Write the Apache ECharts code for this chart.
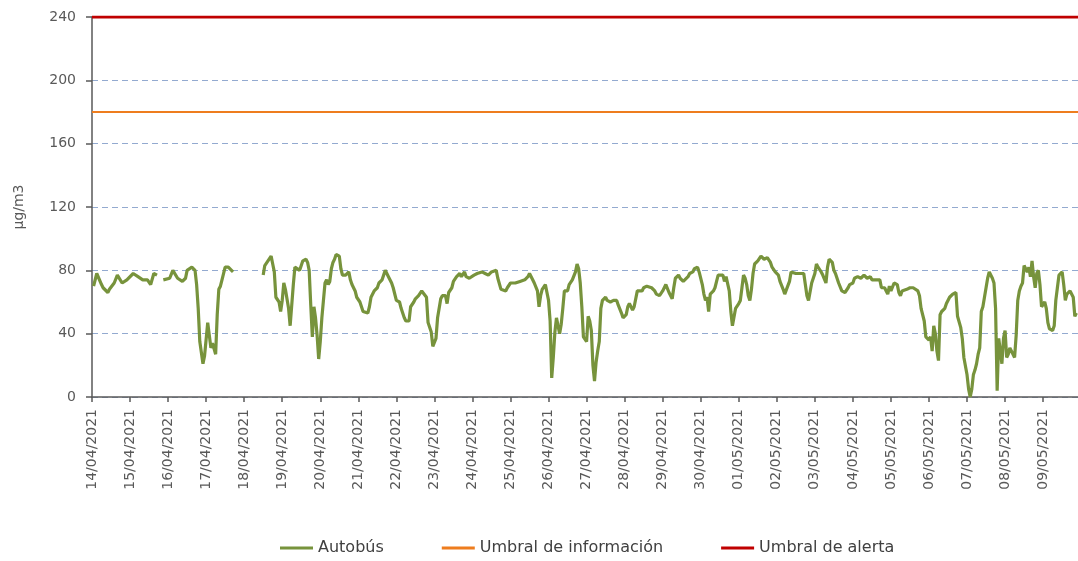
<!DOCTYPE html>
<html>
<head>
<meta charset="utf-8">
<script src="https://cdn.jsdelivr.net/npm/echarts@6/dist/echarts.min.js"></script>
<style>
html,body{margin:0;padding:0;background:#fff;}
#chart{width:1078px;height:561px;}
</style>
</head>
<body>
<div id="chart"></div>
<script>
// Day labels (one per 24 hours on the x axis, hour 0 = 14/04/2021 00:00)
const dayLabels = ['14/04/2021','15/04/2021','16/04/2021','17/04/2021','18/04/2021','19/04/2021','20/04/2021','21/04/2021','22/04/2021','23/04/2021','24/04/2021','25/04/2021','26/04/2021','27/04/2021','28/04/2021','29/04/2021','30/04/2021','01/05/2021','02/05/2021','03/05/2021','04/05/2021','05/05/2021','06/05/2021','07/05/2021','08/05/2021','09/05/2021'];
const yTicks = [0, 40, 80, 120, 160, 200, 240];

// Autobús: hour since start, value (null = no data)
const hours = [1,3,6,7,10,11,14,16,19,22,26,29,32,35,37,39,41,43,
45,49,51,52,54,57,59,60,63,65,66,67,68,70,71,73,74,75,76,78,79,80,81,82,84,86,88,89,98,
108,109,111,113,114,115,116,118,119,120,121,122,124,125,127,128,129,131,132,133,135,136,137,138,139,140,141,142,143,144,145,146,147,148,149,150,151,152,153,154,156,157,158,160,162,163,164,166,167,169,171,172,174,175,176,178,180,181,183,184,185,186,187,189,190,192,194,195,197,198,200,201,203,204,
206,208,209,211,212,214,215,216,217,218,220,221,223,224,225,227,228,230,232,233,235,236,238,239,241,243,244,246,248,250,252,255,256,258,259,261,262,264,265,267,268,270,271,273,275,276,278,279,281,282,283,284,286,287,288,289,290,291,292,293,294,295,296,297,298,300,301,303,305,306,307,308,
309,310,311,312,313,314,315,316,317,318,319,320,321,322,324,325,327,329,331,332,334,335,337,338,339,341,342,344,345,347,348,350,351,353,355,356,358,359,360,362,363,364,366,367,368,370,371,373,374,376,377,379,380,382,383,385,386,387,388,389,390,392,393,394,395,396,398,399,400,401,402,403,404,406,407,408,409,410,411,412,413,414,415,416,417,
418,420,422,423,424,426,428,429,431,433,434,436,437,438,440,441,442,444,445,447,448,449,450,451,452,454,455,456,457,458,460,461,463,464,465,466,467,468,469,470,471,473,475,477,478,480,481,483,484,485,487,488,489,491,492,494,495,497,498,500,501,502,503,504,506,508,509,510,511,512,514,516,518,
519,521,522,523,525,526,528,529,530,531,532,533,534,535,536,538,539,541,543,545,546,547,548,549,550,552,553,554,555,556,557,558,559,560,561,562,563,564,565,566,567,568,569,570,571,572,573,574,575,576,577,578,579,580,581,582,583,584,585,586,587,588,589,590,591,592,593,594,595,596,597,598,599,600,601,602,603,604,606,607,608,609,610,612,613,614,615,617,618,619,620,621];
const values = [70,78,71,69,66,68,72,77,72,74,78,76,74,74,71,78,77,null,
74,75,80,79,75,73,75,80,82,80,71,56,35,21,26,47,46,31,34,27,52,68,70,74,82,82,80,79,null,
77,83,86,89,84,79,63,60,54,61,72,68,56,45,71,82,81,80,83,86,87,85,80,58,38,57,50,39,24,35,50,61,72,74,71,73,81,85,87,90,89,81,77,77,79,74,71,67,63,60,54,53,53,57,63,67,69,72,74,77,80,78,76,72,69,61,60,56,50,48,48,57,60,62,
64,67,67,63,47,41,32,31,37,50,62,64,64,59,66,69,73,76,78,76,79,76,75,74,77,78,79,79,78,77,79,80,75,68,67,67,69,72,72,72,73,73,74,74,76,78,74,72,67,57,64,68,71,66,61,48,12,25,41,50,50,40,46,56,67,67,71,74,79,84,81,72,
57,38,37,35,51,48,42,20,10,22,29,35,56,61,63,61,60,61,61,58,53,50,52,57,59,55,57,67,68,67,69,70,71,69,67,65,64,63,67,71,71,66,62,69,75,77,75,73,74,76,78,79,81,82,79,71,65,61,63,54,65,67,69,73,77,77,77,73,76,77,67,54,45,56,55,59,61,69,77,75,71,64,61,68,78,
84,86,89,89,87,88,85,82,79,77,73,68,65,66,73,79,79,78,79,78,79,78,71,64,61,72,75,78,84,82,79,77,72,82,87,87,85,80,78,77,72,67,66,69,71,72,75,76,77,75,77,77,75,76,74,74,75,74,69,69,67,65,70,67,72,71,66,64,67,67,68,69,69,
70,67,64,56,48,38,36,38,29,45,40,29,23,52,54,56,59,63,65,66,51,50,44,37,25,14,5,0,5,14,17,21,27,31,54,57,63,69,75,79,78,75,72,56,4,37,38,21,37,42,25,27,31,32,27,25,39,61,67,70,72,83,84,79,82,76,86,76,69,78,80,71,57,56,60,56,47,43,42,45,61,69,77,79,71,61,65,67,66,63,51,53];

const infoThreshold = 180;
const alertThreshold = 240;
const xMin = 0;
const xMax = 622;

const busData = hours.map((h, i) => [h, values[i] === null ? '-' : values[i]]);

const chart = echarts.init(document.getElementById('chart'), null, {renderer: 'canvas'});
const font = 'DejaVu Sans';
chart.setOption({
  animation: false,
  backgroundColor: '#ffffff',
  grid: {left: 92, right: 0, top: 17, bottom: 164, containLabel: false},
  legend: {
    left: 275, top: 535,
    itemGap: 58, itemWidth: 33, itemHeight: 3,
    icon: 'rect',
    textStyle: {fontFamily: font, fontSize: 16, color: '#404040'},
    data: ['Autobús', 'Umbral de información', 'Umbral de alerta']
  },
  xAxis: {
    type: 'value', min: xMin, max: xMax, interval: 24,
    axisLine: {show: true, onZero: false, lineStyle: {color: '#595959', width: 1.5}},
    axisTick: {show: true, length: 5, inside: false, lineStyle: {color: '#595959', width: 1.5}},
    splitLine: {show: false},
    axisLabel: {
      rotate: 90, margin: 12, fontFamily: font, fontSize: 14, color: '#595959',
      showMaxLabel: false,
      formatter: v => (v % 24 === 0 && dayLabels[v / 24]) ? dayLabels[v / 24] : ''
    }
  },
  yAxis: {
    type: 'value', min: yTicks[0], max: yTicks[yTicks.length - 1], interval: 40,
    name: 'µg/m3', nameLocation: 'middle', nameGap: 66, nameRotate: 90,
    nameTextStyle: {fontFamily: font, fontSize: 14, color: '#595959'},
    axisLine: {show: true, lineStyle: {color: '#595959', width: 1.5}},
    axisTick: {show: true, length: 6, lineStyle: {color: '#595959', width: 1.5}},
    axisLabel: {margin: 16, fontFamily: font, fontSize: 14, color: '#595959'},
    splitLine: {show: true, lineStyle: {color: '#93AAD0', type: [6, 4], width: 1}}
  },
  series: [
    {
      name: 'Autobús', type: 'line', data: busData, showSymbol: false, connectNulls: false,
      lineStyle: {color: '#77933C', width: 3.2}, itemStyle: {color: '#77933C'}, z: 3
    },
    {
      name: 'Umbral de información', type: 'line', showSymbol: false,
      data: [[xMin, infoThreshold], [xMax, infoThreshold]],
      lineStyle: {color: '#EE7D1E', width: 2}, itemStyle: {color: '#EE7D1E'}, z: 2
    },
    {
      name: 'Umbral de alerta', type: 'line', showSymbol: false,
      data: [[xMin, alertThreshold], [xMax, alertThreshold]],
      lineStyle: {color: '#C00000', width: 3}, itemStyle: {color: '#C00000'}, z: 2
    }
  ]
});
</script>
</body>
</html>
